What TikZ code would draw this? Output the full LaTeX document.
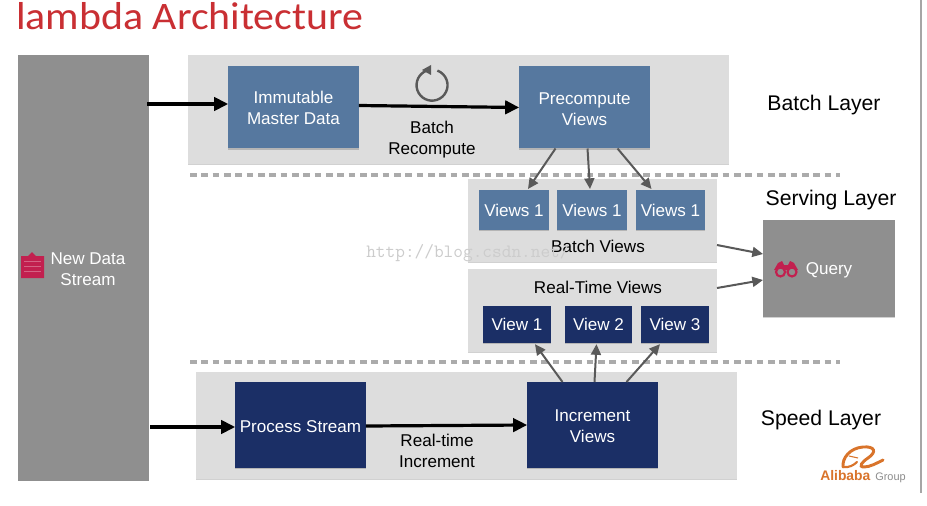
\documentclass[tikz,border=0pt]{standalone}
\usepackage{fontspec}
\setmainfont{Liberation Sans}
\newfontfamily\titlefont{Carlito}
\usepackage{xcolor}
\usepackage{graphicx}
\usetikzlibrary{arrows.meta,calc,shadows}
\definecolor{steel}{HTML}{56789F}
\definecolor{navy}{HTML}{1B2F66}
\definecolor{panelgray}{HTML}{DDDDDD}
\definecolor{streamgray}{HTML}{8F8F8F}
\definecolor{pink}{HTML}{C2204F}
\definecolor{ali}{HTML}{D9742B}
\definecolor{titlered}{HTML}{C92F33}
\newcommand{\dropby}[1]{\rule{0pt}{#1}}

\begin{document}
\begin{tikzpicture}[
x=0.75pt,y=-0.75pt,
softshadow/.style={drop shadow={shadow xshift=0pt,shadow yshift=-0.9pt,opacity=0.18,fill=black}},
box/.style={
    rectangle,inner sep=0pt,outer sep=0pt,align=center,font=\fontsize{12.8}{15.75}\selectfont
},
panel/.style={box,fill=panelgray,softshadow},
bigblue/.style={box,minimum width=98pt,minimum height=61.5pt,fill=steel,text=white,softshadow},
viewblue/.style={box,minimum width=52pt,minimum height=30pt,fill=steel,text=white,softshadow},
bignavy/.style={box,minimum width=98pt,minimum height=64.5pt,fill=navy,text=white,softshadow},
viewnavy/.style={box,minimum width=50.5pt,minimum height=28pt,fill=navy,text=white,softshadow},
grayblock/.style={box,fill=streamgray,text=white},
lbl/.style={box,text=black},
layer/.style={box,text=black,font=\fontsize{15.9}{19}\selectfont},
sep/.style={line width=3pt,draw=black!33,dash pattern=on 5pt off 3.5pt},
thick arrow/.style={-{Triangle[length=10.5pt,width=10pt]},line width=2.4pt,black},
thin arrow/.style={-{Triangle[length=8pt,width=7.5pt]},line width=1.5pt,black!65}
]
    \useasboundingbox[fill=white] (0,0) rectangle (927,506);
    \node(Title)[anchor=base west,inner sep=0pt,text=titlered,font=\titlefont\fontsize{31.4}{32}\selectfont] at (16,30){\scalebox{1}[0.93]{lambda Architecture}};
    \draw[black!35,line width=0.8pt] (921,0) -- (921,493);

    % panels
    \node(Stream)[grayblock,minimum width=98.25pt,minimum height=319.5pt] at (83.5,268){};
    \node(BatchP)[panel,minimum width=405.75pt,minimum height=81.75pt] at (458.5,109.5){};
    \node(ServeP)[panel,minimum width=186.75pt,minimum height=62.25pt] at (592.5,220.5){};
    \node(RealP)[panel,minimum width=186.75pt,minimum height=62.25pt] at (592.5,310.5){};
    \node(SpeedP)[panel,minimum width=405.75pt,minimum height=80.25pt] at (466.5,425.5){};
    \node(Query)[grayblock,minimum width=99pt,minimum height=72.75pt,softshadow] at (829,268.5){\dropby{11pt}Query};

    \draw[sep] (190,175) -- (840,175);
    \draw[sep] (190,362) -- (840,362);

    % batch layer
    \node(Master)[bigblue,minimum height=62pt] at (293.5,107){\dropby{10.8pt}Immutable\\Master Data};
    \node(Pre)[bigblue] at (584.5,107.5){\dropby{11.3pt}Precompute\\Views};
    \node(Recomp)[lbl] at (432,139.5){Batch\\Recompute};
    \coordinate(Loop) at (432,85);
    \draw[black!65,line width=1.8pt] ($(Loop)+(-5,-14.5)$) arc (-109:-430:15.5);
    \fill[black!65] (422,70) -- (431,65) -- (431,75) -- cycle;

    % serving layer
    \node(V1)[viewblue] at (514,210){Views 1};
    \node(V2)[viewblue] at (592,210){Views 1};
    \node(V3)[viewblue] at (670.5,210){Views 1};
    \node(BV)[lbl] at (598,246){Batch Views};
    \node(RV)[lbl] at (598,287){Real-Time Views};
    \node(R1)[viewnavy,minimum width=51pt] at (517,324.5){View 1};
    \node(R2)[viewnavy] at (598.5,324.5){View 2};
    \node(R3)[viewnavy,minimum width=51pt] at (675,324.5){View 3};

    % speed layer
    \node(Proc)[bignavy] at (300.5,425){\dropby{11.3pt}Process Stream};
    \node(Incr)[bignavy] at (592.5,425){\dropby{10.8pt}Increment\\Views};
    \node(RInc)[lbl] at (437,450.5){Real-time\\Increment};

    % side labels
    \node(NewData)[box,text=white] at (88,269.5){New Data\\Stream};
    \node(LB)[layer] at (824,105.5){Batch Layer};
    \node(LS)[layer] at (831,200.5){Serving Layer};
    \node(LP)[layer] at (821,420.5){Speed Layer};

    % arrows
    \coordinate(StreamA) at (147,104);
    \coordinate(StreamB) at (150,427);
    \draw[thick arrow] (StreamA) -- (Master.west|-StreamA);
    \draw[thick arrow] (Master.east) ++(0,-1.5) -- (Pre.west);
    \draw[thick arrow] (StreamB) -- (Proc.west|-StreamB);
    \draw[thick arrow] (Proc.east) ++(0,1) -- (Incr.west);
    \draw[thin arrow] ($(Pre.south)+(-29,0)$) -- ($(V1.north)+(14,-1)$);
    \draw[thin arrow] ($(Pre.south)+(3,0)$) -- ($(V2.north)+(-2,-1)$);
    \draw[thin arrow] ($(Pre.south)+(33,0)$) -- ($(V3.north)+(-19,-1)$);
    \draw[thin arrow] ($(Incr.north)+(-30,0)$) -- ($(R1.south)+(18,1)$);
    \draw[thin arrow] ($(Incr.north)+(2,0)$) -- ($(R2.south)+(-2,1)$);
    \draw[thin arrow] ($(Incr.north)+(34,0)$) -- ($(R3.south)+(-15,1)$);
    \draw[thin arrow] (ServeP.east|-0,245) -- (Query.west|-0,254);
    \draw[thin arrow] (RealP.east|-0,288) -- (Query.west|-0,280);

    % icons
    \fill[pink] (21,256) -- (28,256) -- (32,252) -- (36,256) -- (44,256) -- (44,278) -- (21,278) -- cycle;
    \foreach \yy in {261,266,271}
        \draw[pink!70!white,line width=0.5pt] (24,\yy) -- (41,\yy);
    \fill[pink] (778,263) -- (782,261) -- (784,265) -- (788,265) -- (790,261) -- (794,263) -- (798,270) -- (774,270) -- cycle;
    \draw[pink,line width=1.6pt,fill=streamgray] (780.5,272) circle (4.5);
    \draw[pink,line width=1.6pt,fill=streamgray] (792,272) circle (4.5);

    % logo
    \draw[ali,line width=2.2pt,line cap=round] (843,467) .. controls (842,458) and (850,448) .. (863,447) .. controls (875,446) and (877,452) .. (868,458) .. controls (862,462) and (858,467) .. (864,467) .. controls (870,467) and (877,463) .. (883,460);
    \draw[ali,line width=1.6pt,line cap=round] (843,467) .. controls (849,468) and (854,465) .. (857,462);
    \draw[ali,line width=0.8pt] (849,456) -- (858,458);
    \node(Ali)[anchor=base west,inner sep=0pt,text=ali,font=\bfseries\fontsize{10.4}{12}\selectfont] at (820,480){Alibaba};
    \node(Grp)[anchor=base west,inner sep=0pt,text=black!45,font=\fontsize{8.2}{10}\selectfont] at (875,480){Group};

    % watermark
    \node(Mark)[anchor=base west,inner sep=0pt,text=black!20,font=\ttfamily\fontsize{14.1}{15}\selectfont] at (366,257){http://blog.csdn.net/};
\end{tikzpicture}
\end{document}
